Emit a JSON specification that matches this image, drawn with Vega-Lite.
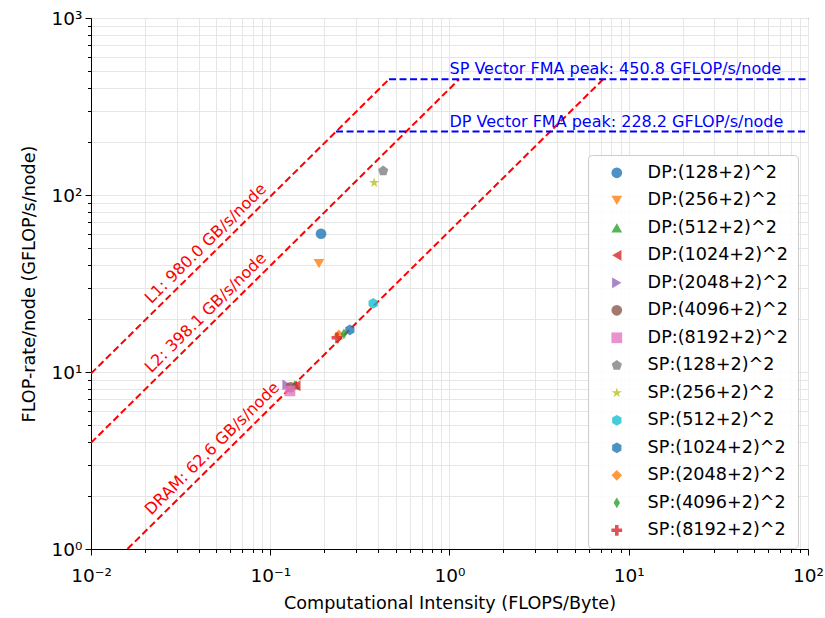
{
  "$schema": "https://vega.github.io/schema/vega-lite/v6.json",
  "autosize": {"type": "none"},
  "width": 717,
  "height": 531,
  "padding": {"left": 91, "top": 18, "right": 17, "bottom": 69},
  "background": "white",
  "config": {
    "font": "DejaVu Sans",
    "view": {"stroke": "#000000", "strokeWidth": 1},
    "axis": {
      "domainColor": "#000000",
      "domainWidth": 1,
      "tickColor": "#000000",
      "tickWidth": 1,
      "labelColor": "#000000",
      "labelFont": "DejaVu Sans",
      "labelFontSize": 18.5,
      "labelOverlap": false,
      "labelFlush": false,
      "titleColor": "#000000",
      "titleFont": "DejaVu Sans",
      "titleFontSize": 17.6,
      "titleFontWeight": "normal",
      "grid": true,
      "gridColor": "#e6e6e6",
      "gridWidth": 1
    },
    "legend": {
      "orient": "none",
      "legendX": 497,
      "legendY": 137,
      "labelFont": "DejaVu Sans",
      "labelFontSize": 17.6,
      "labelColor": "#000000",
      "labelLimit": 400,
      "symbolSize": 115,
      "symbolStrokeWidth": 0,
      "rowPadding": 8.5,
      "padding": 9,
      "symbolOffset": 11,
      "labelOffset": 22,
      "strokeColor": "#cccccc",
      "fillColor": "rgba(255,255,255,0.85)",
      "cornerRadius": 4
    }
  },
  "datasets": {
    "roofs": [
      {"roof": "L1", "ci": 0.01, "gf": 9.8},
      {"roof": "L1", "ci": 0.46, "gf": 450.8},
      {"roof": "L2", "ci": 0.01, "gf": 3.981},
      {"roof": "L2", "ci": 1.1324, "gf": 450.8},
      {"roof": "DRAM", "ci": 0.015974, "gf": 1.0},
      {"roof": "DRAM", "ci": 7.2013, "gf": 450.8}
    ],
    "peaks": [
      {"peak": "SP", "ci": 0.46, "gf": 450.8},
      {"peak": "SP", "ci": 100, "gf": 450.8},
      {"peak": "DP", "ci": 0.23286, "gf": 228.2},
      {"peak": "DP", "ci": 100, "gf": 228.2}
    ],
    "roofLabels": [
      {"t": "L1: 980.0 GB/s/node", "ci": 0.0205, "gf": 20.09},
      {"t": "L2: 398.1 GB/s/node", "ci": 0.0205, "gf": 8.161},
      {"t": "DRAM: 62.6 GB/s/node", "ci": 0.0205, "gf": 1.2833}
    ],
    "peakLabels": [
      {"t": "SP Vector FMA peak: 450.8 GFLOP/s/node", "ci": 1, "gf": 450.8},
      {"t": "DP Vector FMA peak: 228.2 GFLOP/s/node", "ci": 1, "gf": 228.2}
    ],
    "points": [
      {"run": "DP:(128+2)^2", "ci": 0.192, "gf": 60.4},
      {"run": "DP:(256+2)^2", "ci": 0.187, "gf": 40.9},
      {"run": "DP:(512+2)^2", "ci": 0.137, "gf": 8.45},
      {"run": "DP:(1024+2)^2", "ci": 0.139, "gf": 8.35},
      {"run": "DP:(2048+2)^2", "ci": 0.124, "gf": 8.45},
      {"run": "DP:(4096+2)^2", "ci": 0.130, "gf": 8.2},
      {"run": "DP:(8192+2)^2", "ci": 0.1288, "gf": 7.82},
      {"run": "SP:(128+2)^2", "ci": 0.4266, "gf": 137},
      {"run": "SP:(256+2)^2", "ci": 0.380, "gf": 117.3},
      {"run": "SP:(512+2)^2", "ci": 0.3753, "gf": 24.4},
      {"run": "SP:(1024+2)^2", "ci": 0.278, "gf": 17.3},
      {"run": "SP:(2048+2)^2", "ci": 0.2415, "gf": 16.2},
      {"run": "SP:(4096+2)^2", "ci": 0.2576, "gf": 16.4},
      {"run": "SP:(8192+2)^2", "ci": 0.2355, "gf": 15.6}
    ]
  },
  "encoding": {
    "x": {
      "field": "ci",
      "type": "quantitative",
      "scale": {"type": "log", "domain": [0.01, 100], "nice": false},
      "axis": {
        "title": "Computational Intensity (FLOPS/Byte)",
        "values": [0.01,0.02,0.03,0.04,0.05,0.06,0.07,0.08,0.09,0.1,0.2,0.3,0.4,0.5,0.6,0.7,0.8,0.9,1,2,3,4,5,6,7,8,9,10,20,30,40,50,60,70,80,90,100],
        "labelExpr": "datum.value == 0.01 ? '10⁻²' : datum.value == 0.1 ? '10⁻¹' : datum.value == 1 ? '10⁰' : datum.value == 10 ? '10¹' : datum.value == 100 ? '10²' : ''",
        "tickSize": {"condition": {"test": "indexof([0.01,0.1,1,10,100], datum.value) >= 0", "value": 6}, "value": 3.5},
        "labelPadding": 11,
        "titlePadding": 10
      }
    },
    "y": {
      "field": "gf",
      "type": "quantitative",
      "scale": {"type": "log", "domain": [1, 1000], "nice": false},
      "axis": {
        "title": "FLOP-rate/node (GFLOP/s/node)",
        "values": [1,2,3,4,5,6,7,8,9,10,20,30,40,50,60,70,80,90,100,200,300,400,500,600,700,800,900,1000],
        "labelExpr": "datum.value == 1 ? '10⁰' : datum.value == 10 ? '10¹' : datum.value == 100 ? '10²' : datum.value == 1000 ? '10³' : ''",
        "tickSize": {"condition": {"test": "indexof([1,10,100,1000], datum.value) >= 0", "value": 6}, "value": 3.5},
        "labelPadding": 3,
        "titlePadding": 13
      }
    }
  },
  "layer": [
    {
      "data": {"name": "roofs"},
      "mark": {"type": "line", "color": "#ff0000", "strokeWidth": 2, "strokeDash": [7, 3.5], "clip": true},
      "encoding": {"detail": {"field": "roof"}}
    },
    {
      "data": {"name": "peaks"},
      "mark": {"type": "line", "color": "#0000ff", "strokeWidth": 2, "strokeDash": [7, 3.5], "clip": true},
      "encoding": {"detail": {"field": "peak"}}
    },
    {
      "data": {"name": "roofLabels"},
      "mark": {"type": "text", "color": "#ff0000", "font": "DejaVu Sans", "fontSize": 16, "angle": 315.4, "align": "left", "baseline": "alphabetic", "dx": 13, "dy": -7},
      "encoding": {"text": {"field": "t"}}
    },
    {
      "data": {"name": "peakLabels"},
      "mark": {"type": "text", "color": "#0000ff", "font": "DejaVu Sans", "fontSize": 16, "align": "left", "baseline": "alphabetic", "dy": -5},
      "encoding": {"text": {"field": "t"}}
    },
    {
      "data": {"name": "points"},
      "mark": {"type": "point", "filled": true, "opacity": 0.8, "size": 115, "strokeWidth": 0},
      "encoding": {
        "color": {
          "field": "run",
          "type": "nominal",
          "title": null,
          "scale": {
            "domain": ["DP:(128+2)^2","DP:(256+2)^2","DP:(512+2)^2","DP:(1024+2)^2","DP:(2048+2)^2","DP:(4096+2)^2","DP:(8192+2)^2","SP:(128+2)^2","SP:(256+2)^2","SP:(512+2)^2","SP:(1024+2)^2","SP:(2048+2)^2","SP:(4096+2)^2","SP:(8192+2)^2"],
            "range": ["#1f77b4","#ff7f0e","#2ca02c","#d62728","#9467bd","#8c564b","#e377c2","#7f7f7f","#bcbd22","#17becf","#1f77b4","#ff7f0e","#2ca02c","#d62728"]
          }
        },
        "shape": {
          "field": "run",
          "type": "nominal",
          "title": null,
          "scale": {
            "domain": ["DP:(128+2)^2","DP:(256+2)^2","DP:(512+2)^2","DP:(1024+2)^2","DP:(2048+2)^2","DP:(4096+2)^2","DP:(8192+2)^2","SP:(128+2)^2","SP:(256+2)^2","SP:(512+2)^2","SP:(1024+2)^2","SP:(2048+2)^2","SP:(4096+2)^2","SP:(8192+2)^2"],
            "range": [
              "circle",
              "triangle-down",
              "triangle-up",
              "triangle-left",
              "triangle-right",
              "circle",
              "square",
              "M0,-1L0.951,-0.309L0.588,0.809L-0.588,0.809L-0.951,-0.309Z",
              "M0,-1L0.2245,-0.309L0.951,-0.309L0.363,0.118L0.588,0.809L0,0.382L-0.588,0.809L-0.363,0.118L-0.951,-0.309L-0.2245,-0.309Z",
              "M0,-1L0.866,-0.5L0.866,0.5L0,1L-0.866,0.5L-0.866,-0.5Z",
              "M0,-1L0.866,-0.5L0.866,0.5L0,1L-0.866,0.5L-0.866,-0.5Z",
              "diamond",
              "M0,-1L0.6,0L0,1L-0.6,0Z",
              "M-0.333,-1L0.333,-1L0.333,-0.333L1,-0.333L1,0.333L0.333,0.333L0.333,1L-0.333,1L-0.333,0.333L-1,0.333L-1,-0.333L-0.333,-0.333Z"
            ]
          }
        }
      }
    }
  ]
}
